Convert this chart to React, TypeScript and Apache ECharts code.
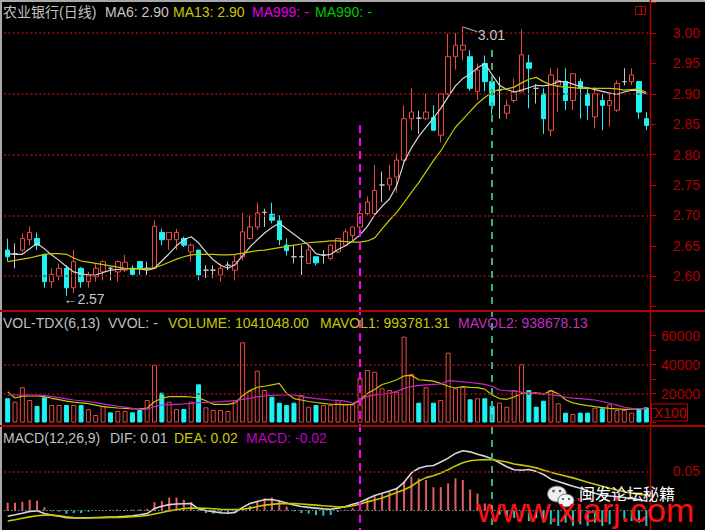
import React, { useEffect, useRef } from "react";
import * as echarts from "echarts";

// ---------- data ----------
const opens = [
  2.643, 2.637, 2.643, 2.66, 2.662, 2.635, 2.591, 2.6, 2.613, 2.581,
  2.613, 2.591, 2.599, 2.607, 2.613, 2.607, 2.61, 2.613, 2.624, 2.613,
  2.613, 2.672, 2.66, 2.66, 2.662, 2.64, 2.643, 2.61, 2.61, 2.602,
  2.618, 2.61, 2.632, 2.662, 2.681, 2.705, 2.702, 2.691, 2.651, 2.632,
  2.632, 2.621, 2.632, 2.635, 2.629, 2.64, 2.651, 2.667, 2.681, 2.703,
  2.703, 2.75, 2.75, 2.763, 2.791, 2.859, 2.86, 2.859, 2.861, 2.832,
  2.9, 2.961, 2.972, 2.961, 2.904, 2.95, 2.92, 2.906, 2.868, 2.889,
  2.903, 2.951, 2.909, 2.9, 2.84, 2.914, 2.92, 2.889, 2.92, 2.9,
  2.862, 2.889, 2.881, 2.873, 2.92, 2.92, 2.92, 2.859,
];
const closes = [
  2.632, 2.637, 2.662, 2.672, 2.651, 2.591, 2.603, 2.613, 2.581, 2.624,
  2.591, 2.602, 2.613, 2.624, 2.613, 2.624, 2.623, 2.603, 2.613, 2.613,
  2.682, 2.66, 2.672, 2.672, 2.651, 2.651, 2.602, 2.61, 2.61, 2.613,
  2.618, 2.624, 2.673, 2.681, 2.704, 2.705, 2.692, 2.66, 2.642, 2.632,
  2.632, 2.643, 2.622, 2.635, 2.651, 2.662, 2.673, 2.681, 2.703, 2.722,
  2.741, 2.75, 2.761, 2.791, 2.859, 2.87, 2.86, 2.87, 2.84, 2.9,
  2.961, 2.98, 2.98, 2.909, 2.939, 2.92, 2.881, 2.906, 2.881, 2.903,
  2.964, 2.942, 2.909, 2.859, 2.931, 2.922, 2.889, 2.933, 2.909, 2.881,
  2.9, 2.881, 2.889, 2.917, 2.92, 2.931, 2.87, 2.848,
];
const lows = [
  2.624, 2.613, 2.64, 2.651, 2.643, 2.581, 2.581, 2.593, 2.568, 2.572,
  2.581, 2.581, 2.591, 2.593, 2.593, 2.591, 2.607, 2.603, 2.602, 2.602,
  2.612, 2.651, 2.643, 2.643, 2.648, 2.624, 2.593, 2.597, 2.597, 2.591,
  2.61, 2.593, 2.626, 2.66, 2.676, 2.681, 2.687, 2.651, 2.634, 2.621,
  2.602, 2.621, 2.618, 2.621, 2.626, 2.638, 2.649, 2.659, 2.676, 2.7,
  2.7, 2.722, 2.741, 2.737, 2.788, 2.84, 2.834, 2.857, 2.84, 2.82,
  2.898, 2.94, 2.955, 2.905, 2.89, 2.904, 2.866, 2.859, 2.859, 2.885,
  2.903, 2.876, 2.884, 2.834, 2.83, 2.87, 2.873, 2.873, 2.859, 2.857,
  2.843, 2.84, 2.846, 2.87, 2.914, 2.914, 2.859, 2.84,
];
const highs = [
  2.662, 2.654, 2.67, 2.682, 2.672, 2.637, 2.613, 2.621, 2.618, 2.643,
  2.615, 2.607, 2.621, 2.626, 2.615, 2.626, 2.635, 2.618, 2.624, 2.624,
  2.692, 2.678, 2.672, 2.678, 2.665, 2.654, 2.643, 2.618, 2.618, 2.621,
  2.624, 2.635, 2.704, 2.7, 2.721, 2.711, 2.721, 2.7, 2.662, 2.651,
  2.651, 2.651, 2.632, 2.643, 2.653, 2.662, 2.678, 2.681, 2.708, 2.731,
  2.783, 2.772, 2.783, 2.802, 2.881, 2.909, 2.872, 2.9, 2.881, 2.9,
  2.999, 3.0, 3.01, 2.972, 2.95, 2.963, 2.925, 2.928, 2.89, 2.925,
  3.006, 2.964, 2.916, 2.909, 2.942, 2.942, 2.942, 2.933, 2.925, 2.911,
  2.911, 2.9, 2.9, 2.922, 2.942, 2.942, 2.92, 2.87,
];
const ma6 = [
  2.637, 2.636, 2.636, 2.645, 2.654, 2.645, 2.635, 2.626, 2.616, 2.607,
  2.604, 2.602, 2.602, 2.606, 2.61, 2.611, 2.612, 2.613, 2.612, 2.61,
  2.613, 2.625, 2.637, 2.65, 2.66, 2.665, 2.655, 2.64, 2.627, 2.618,
  2.613, 2.619, 2.634, 2.648, 2.66, 2.671, 2.68, 2.687, 2.678, 2.669,
  2.66, 2.651, 2.637, 2.634, 2.636, 2.644, 2.65, 2.658, 2.668, 2.682,
  2.701, 2.715, 2.727, 2.749, 2.788, 2.811, 2.83, 2.845, 2.86, 2.876,
  2.895, 2.913, 2.925, 2.932, 2.943, 2.95, 2.931, 2.914, 2.907, 2.903,
  2.906, 2.91, 2.914, 2.913, 2.915, 2.92, 2.92, 2.916, 2.912, 2.91,
  2.907, 2.904, 2.901, 2.899, 2.903, 2.906, 2.905, 2.9,
];
const ma13 = [
  2.624, 2.626, 2.628, 2.63, 2.633, 2.636, 2.637, 2.637, 2.636, 2.63,
  2.625, 2.623, 2.621, 2.619, 2.617, 2.615, 2.613, 2.612, 2.612, 2.612,
  2.614, 2.618, 2.623, 2.628, 2.632, 2.635, 2.636, 2.636, 2.636, 2.635,
  2.635, 2.636, 2.638, 2.64, 2.642, 2.643, 2.645, 2.647, 2.649, 2.651,
  2.653, 2.655, 2.656, 2.657, 2.658, 2.658, 2.657, 2.656, 2.656, 2.658,
  2.663, 2.678, 2.692, 2.705, 2.721, 2.738, 2.754, 2.772, 2.79, 2.806,
  2.826, 2.845, 2.858, 2.871, 2.884, 2.894, 2.903, 2.907, 2.908, 2.911,
  2.918, 2.924, 2.927, 2.92, 2.915, 2.912, 2.911, 2.91, 2.909, 2.909,
  2.909, 2.909, 2.909, 2.908, 2.906, 2.907, 2.908, 2.902,
];
const volumes = [
  16700, 14350, 24300, 15500, 11400, 17400, 12070, 12070, 12070, 12070,
  12070, 9100, 5170, 11400, 7000, 7930, 7930, 7000, 8620, 15500,
  39650, 20550, 14350, 9310, 9310, 14350, 26330, 10460, 8620, 8620,
  7930, 15500, 55300, 21950, 35750, 22400, 17800, 13660, 12070, 13660,
  18970, 10900, 12070, 12070, 12070, 15500, 12500, 12500, 31000, 36200,
  35000, 23600, 22400, 21250, 59200, 33450, 13660, 24300, 13660, 15500,
  48150, 23600, 24700, 16000, 16700, 16700, 11400, 13660, 10900, 22400,
  40150, 22400, 10900, 15050, 22400, 13240, 6760, 5860, 6760, 6760,
  10200, 9770, 12550, 8620, 8620, 6760, 9770, 10410,
];
const mavol1 = [
  21250, 16900, 18200, 18280, 18280, 17800, 16700, 15800, 14800, 14000,
  13500, 13000, 12000, 10900, 10400, 10000, 9700, 9310, 9400, 10000,
  14350, 16700, 17800, 17800, 17800, 17600, 17000, 15000, 12550, 12550,
  12550, 13500, 18500, 22000, 24300, 25000, 26000, 27000, 20140, 16500,
  15500, 14500, 13800, 13240, 12600, 12550, 12300, 12500, 15500, 20000,
  22800, 26200, 27600, 29500, 32100, 32500, 29500, 29000, 28500, 27000,
  25000, 23800, 24690, 24200, 24000, 23000, 19000, 16500, 16000, 17600,
  20000, 20400, 20000, 19500, 22000, 19800, 15700, 13500, 12500, 11600,
  10900, 10300, 9700, 9400, 9100, 9200, 9400, 9938,
];
const mavol2 = [
  18970, 18970, 18970, 18970, 18970, 18600, 17800, 17100, 16300, 15500,
  15000, 14500, 13700, 12800, 12000, 11200, 10600, 9800, 9100, 9200,
  11000, 12070, 12300, 12550, 12800, 13200, 13660, 13800, 14000, 14350,
  14800, 15050, 16000, 16700, 17700, 18280, 18700, 18970, 18970, 18970,
  17800, 17200, 16500, 16000, 15500, 15200, 14700, 13300, 15500, 18000,
  19000, 19500, 20140, 21500, 23500, 24800, 25600, 26000, 26300, 26550,
  28830, 28500, 28000, 27600, 27040, 26300, 25000, 22400, 21900, 21700,
  21000, 20550, 20550, 20000, 19200, 18500, 17400, 16800, 16500, 16000,
  15500, 14500, 13300, 12000, 10500, 9800, 9600, 9387,
];
const dif = [
  -0.0073, -0.0055, -0.0035, -0.0012, -0.0005, -0.004, -0.006, -0.0075, -0.0092, -0.0096,
  -0.0095, -0.0093, -0.009, -0.0087, -0.0083, -0.008, -0.0075, -0.0068, -0.0055, -0.004,
  0.0025, 0.0055, 0.0075, 0.0082, 0.0086, 0.0088, 0.002, 0.0, -0.0015, -0.003,
  -0.0035, -0.0025, 0.004, 0.009, 0.0115, 0.0138, 0.014, 0.012, 0.0095, 0.007,
  0.005, 0.004, 0.003, 0.002, 0.0015, 0.003, 0.005, 0.008, 0.0105, 0.015,
  0.019, 0.022, 0.025, 0.028, 0.036, 0.048, 0.054, 0.0566, 0.0575, 0.062,
  0.067, 0.073, 0.0764, 0.075, 0.072, 0.0695, 0.066, 0.061, 0.056, 0.052,
  0.0515, 0.0525, 0.05, 0.046, 0.04, 0.037, 0.034, 0.031, 0.0285, 0.025,
  0.022, 0.0195, 0.0185, 0.0175, 0.0165, 0.0155, 0.014, 0.012,
];
const dea = [
  -0.0135, -0.0118, -0.01, -0.0082, -0.0068, -0.006, -0.0058, -0.0068, -0.008, -0.009,
  -0.0095, -0.0096, -0.0094, -0.0092, -0.009, -0.0088, -0.0085, -0.008, -0.0074, -0.0065,
  -0.0045, -0.0025, -0.0005, 0.001, 0.0025, 0.003, 0.003, 0.0028, 0.0022, 0.0016,
  0.0012, 0.0012, 0.0016, 0.003, 0.005, 0.0068, 0.0078, 0.0088, 0.009, 0.0088,
  0.0082, 0.0075, 0.0068, 0.006, 0.0053, 0.0045, 0.0045, 0.006, 0.008, 0.011,
  0.0135, 0.016, 0.0195, 0.023, 0.0265, 0.031, 0.0375, 0.042, 0.0445, 0.048,
  0.052, 0.057, 0.061, 0.0635, 0.0645, 0.065, 0.0649, 0.0635, 0.062, 0.0595,
  0.058, 0.0565, 0.0545, 0.0515, 0.049, 0.0463, 0.044, 0.0417, 0.039, 0.036,
  0.0335, 0.031, 0.0285, 0.0262, 0.024, 0.0222, 0.0206, 0.02,
];
const macdHist = [
  0.0099, 0.0099, 0.011, 0.0137, 0.0124, 0.0041, -0.001, -0.0015, -0.0041, -0.0033,
  -0.0033, -0.0017, 0.0005, 0.0005, 0.0008, 0.001, 0.001, 0.0012, 0.0015, 0.002,
  0.0107, 0.012, 0.0165, 0.0165, 0.0137, 0.0107, -0.001, -0.0033, -0.004, -0.004,
  -0.0033, -0.002, 0.003, 0.0058, 0.0124, 0.0153, 0.0165, 0.0124, 0.005, -0.001,
  -0.0033, -0.004, -0.0058, -0.0066, -0.0058, -0.0017, 0.001, 0.003, 0.0083, 0.015,
  0.018, 0.021, 0.0236, 0.029, 0.037, 0.0434, 0.041, 0.039, 0.0298, 0.0298,
  0.0347, 0.041, 0.039, 0.0267, 0.0217, 0.009, 0.003, -0.0054, -0.0066, -0.0096,
  -0.008, -0.0137, -0.0096, -0.0157, -0.0178, -0.0198, -0.0157, -0.0198, -0.0178, -0.0198,
  -0.0157, -0.0198, -0.0178, -0.0157, -0.0116, -0.0137, -0.0157, -0.0198,
];
const days = opens.map((_, i) => `D${i + 1}`);
const priceTickLabels = ["2.60", "2.65", "2.70", "2.75", "2.80", "2.85", "2.90", "2.95", "3.00"];
const priceGridValues = [2.6, 2.7, 2.8, 2.9, 3.0];
const volTickLabels = ["20000", "40000", "60000"];
const volGridValues = [20000, 40000];
const macdTickLabels = ["0.05"];
const macdGridValues = [0.05];
const signalDayMagenta = 48;
const signalDayGreen = 66;

// ---------- styles ----------
const RED = "#e84a45";
const CYAN = "#1ff2f2";
const DOJI = "#c8c8c8";
const WHITE_LINE = "#d6d6d6";
const YELLOW = "#c8c800";
const MAGENTA = "#cc22cc";
const AXIS_RED = "#b00000";
const GRID_RED = "#9a0c0c";
const FONT = "'Liberation Sans', Arial, 'Noto Sans CJK SC', sans-serif";
const CJK = "'Noto Sans CJK SC', sans-serif";

function isUp(i: number) {
  if (closes[i] > opens[i]) return true;
  if (closes[i] < opens[i]) return false;
  return i === 0 || closes[i - 1] <= closes[i];
}

function txt(x: number, y: number, s: string, color: string, size = 14, family = FONT) {
  return {
    type: "text",
    x,
    y,
    z: 50,
    silent: true,
    style: {
      text: s,
      fill: color,
      font: `${size}px ${family}`,
      align: "left",
      verticalAlign: "middle",
      textAlign: "left",
      textVerticalAlign: "middle",
    },
  };
}

const dotted = (color: string, dash: number[], width = 1.5) => ({
  color,
  type: dash,
  width,
});

export default function App() {
  const ref = useRef<HTMLDivElement>(null);

  useEffect(() => {
    if (!ref.current) return;
    const chart = echarts.init(ref.current, undefined, { renderer: "svg" });

    const candleData = opens.map((o, i) => {
      const v = [o, closes[i], lows[i], highs[i]];
      if (o === closes[i]) {
        return {
          value: v,
          itemStyle: { color: DOJI, color0: DOJI, borderColor: DOJI, borderColor0: DOJI },
        };
      }
      return v;
    });

    const volData = volumes.map((v, i) => ({
      value: v,
      itemStyle: isUp(i)
        ? { color: "#000", borderColor: RED, borderWidth: 1 }
        : { color: CYAN, borderColor: CYAN, borderWidth: 1 },
    }));

    const macdData = macdHist.map((v) => ({
      value: v,
      itemStyle: { color: v >= 0 ? "#e06060" : "#20c8c8" },
    }));

    const hiIdx = highs.indexOf(Math.max(...highs));

    const gridDef = { left: 4, right: 55 };
    const axisLabelBase = {
      color: AXIS_RED,
      fontSize: 14,
      fontFamily: FONT,
      align: "right",
      margin: 50,
    };

    const option: any = {
      animation: false,
      backgroundColor: "#000",
      grid: [
        { ...gridDef, top: 2.6, height: 304 },
        { ...gridDef, top: 335.5, height: 87 },
        { ...gridDef, top: 432.3, height: 100 },
        { ...gridDef, top: 0, height: 530 },
      ],
      xAxis: [0, 1, 2, 3].map((g) => ({
        type: "category",
        gridIndex: g,
        data: days,
        show: false,
        boundaryGap: true,
      })),
      yAxis: [
        {
          gridIndex: 0,
          type: "value",
          position: "right",
          min: 2.55,
          max: 3.05,
          interval: 0.05,
          splitLine: { show: false },
          axisLine: { show: true, lineStyle: { color: AXIS_RED } },
          axisTick: { show: true, length: 6, lineStyle: { color: AXIS_RED } },
          axisLabel: {
            ...axisLabelBase,
            formatter: (v: number) => {
              const s = v.toFixed(2);
              return priceTickLabels.includes(s) ? s : "";
            },
          },
        },
        {
          gridIndex: 1,
          type: "value",
          position: "right",
          min: 0,
          max: 60000,
          interval: 10000,
          splitLine: { show: false },
          axisLine: { show: true, lineStyle: { color: AXIS_RED } },
          axisTick: { show: true, length: 6, lineStyle: { color: AXIS_RED } },
          axisLabel: {
            ...axisLabelBase,
            formatter: (v: number) => {
              const s = String(Math.round(v));
              return volTickLabels.includes(s) ? s : "";
            },
          },
        },
        {
          gridIndex: 2,
          type: "value",
          position: "right",
          min: -0.025,
          max: 0.1,
          interval: 0.025,
          splitLine: { show: false },
          axisLine: { show: true, lineStyle: { color: AXIS_RED } },
          axisTick: { show: false },
          axisLabel: {
            ...axisLabelBase,
            formatter: (v: number) => {
              const s = v.toFixed(2);
              return Math.abs(v - 0.05) < 1e-6 && macdTickLabels.includes(s) ? s : "";
            },
          },
        },
        { gridIndex: 3, type: "value", min: 0, max: 530, inverse: true, show: false },
      ],
      series: [
        {
          type: "candlestick",
          xAxisIndex: 0,
          yAxisIndex: 0,
          data: candleData,
          barWidth: 5,
          itemStyle: {
            color: "#000",
            color0: CYAN,
            borderColor: RED,
            borderColor0: CYAN,
            borderWidth: 1,
          },
          markLine: {
            silent: true,
            symbol: ["none", "none"],
            label: { show: false },
            lineStyle: dotted(GRID_RED, [2, 2.4]),
            data: priceGridValues.map((v) => ({ yAxis: v })),
          },
          markPoint: {
            silent: true,
            symbol: "circle",
            symbolSize: 0,
            data: [
              {
                type: "max",
                valueDim: "highest",
                label: {
                  show: true,
                  position: "right",
                  distance: 0,
                  offset: [15, 8],
                  color: "#c8c8c8",
                  fontSize: 14,
                  fontFamily: FONT,
                  formatter: (p: any) => Number(p.value).toFixed(2),
                },
              },
              {
                type: "min",
                valueDim: "lowest",
                label: {
                  show: true,
                  position: "right",
                  distance: 0,
                  offset: [-3, 3],
                  color: "#c8c8c8",
                  fontSize: 14,
                  fontFamily: FONT,
                  formatter: (p: any) => "\u2190" + Number(p.value).toFixed(2),
                },
              },
            ],
          },
          z: 3,
        },
        {
          type: "line",
          xAxisIndex: 0,
          yAxisIndex: 0,
          data: ma6,
          symbol: "none",
          lineStyle: { color: WHITE_LINE, width: 1.2 },
          z: 4,
          markLine: {
            silent: true,
            symbol: ["none", "none"],
            label: { show: false },
            lineStyle: { color: "#b8b8b8", width: 1, type: "solid" },
            data: [
              [
                { coord: [hiIdx, highs[hiIdx]] },
                { coord: [hiIdx + 2, highs[hiIdx] - 0.008] },
              ],
            ],
          },
        },
        {
          type: "line",
          xAxisIndex: 0,
          yAxisIndex: 0,
          data: ma13,
          symbol: "none",
          lineStyle: { color: YELLOW, width: 1.2 },
          z: 4,
        },
        {
          type: "bar",
          xAxisIndex: 1,
          yAxisIndex: 1,
          data: volData,
          barWidth: 5,
          z: 3,
          markLine: {
            silent: true,
            symbol: ["none", "none"],
            label: { show: false },
            lineStyle: dotted(GRID_RED, [2, 2.4]),
            data: volGridValues.map((v) => ({ yAxis: v })),
          },
        },
        {
          type: "line",
          xAxisIndex: 1,
          yAxisIndex: 1,
          data: mavol1,
          symbol: "none",
          lineStyle: { color: YELLOW, width: 1.2 },
          z: 4,
        },
        {
          type: "line",
          xAxisIndex: 1,
          yAxisIndex: 1,
          data: mavol2,
          symbol: "none",
          lineStyle: { color: MAGENTA, width: 1.2 },
          z: 4,
        },
        {
          type: "bar",
          xAxisIndex: 2,
          yAxisIndex: 2,
          data: macdData,
          barWidth: 2,
          z: 3,
          markLine: {
            silent: true,
            symbol: ["none", "none"],
            label: { show: false },
            data: [
              ...macdGridValues.map((v) => ({ yAxis: v, lineStyle: dotted(GRID_RED, [2, 2.4]) })),
              { yAxis: 0, lineStyle: dotted("#8c8c8c", [1.5, 2], 1) },
            ],
          },
        },
        {
          type: "line",
          xAxisIndex: 2,
          yAxisIndex: 2,
          data: dif,
          symbol: "none",
          lineStyle: { color: WHITE_LINE, width: 1.6 },
          z: 4,
        },
        {
          type: "line",
          xAxisIndex: 2,
          yAxisIndex: 2,
          data: dea,
          symbol: "none",
          lineStyle: { color: YELLOW, width: 1.6 },
          z: 4,
        },
        {
          type: "line",
          xAxisIndex: 3,
          yAxisIndex: 3,
          data: [],
          silent: true,
          z: 10,
          markLine: {
            silent: true,
            symbol: ["none", "none"],
            label: { show: false },
            lineStyle: { color: "#ff00ff", width: 2, type: [8, 5] },
            data: [[{ coord: [signalDayMagenta, 125] }, { coord: [signalDayMagenta, 530] }]],
          },
        },
        {
          type: "line",
          xAxisIndex: 3,
          yAxisIndex: 3,
          data: [],
          silent: true,
          z: 10,
          markLine: {
            silent: true,
            symbol: ["none", "none"],
            label: { show: false },
            lineStyle: { color: "#33b07e", width: 2, type: [7, 6] },
            data: [[{ coord: [signalDayGreen, 50] }, { coord: [signalDayGreen, 530] }]],
          },
        },
      ],
      graphic: [
        // frame
        { type: "rect", silent: true, z: 40, shape: { x: 0, y: 0, width: 705, height: 2 }, style: { fill: "#a8a8a8" } },
        { type: "rect", silent: true, z: 40, shape: { x: 0, y: 0, width: 2, height: 530 }, style: { fill: "#a8a8a8" } },
        { type: "line", silent: true, z: 40, shape: { x1: 650.5, y1: 0, x2: 650.5, y2: 530 }, style: { stroke: AXIS_RED, lineWidth: 1.5 } },
        { type: "line", silent: true, z: 40, shape: { x1: 0, y1: 311, x2: 705, y2: 311 }, style: { stroke: "#b00000", lineWidth: 2 } },
        { type: "line", silent: true, z: 40, shape: { x1: 0, y1: 426, x2: 705, y2: 426 }, style: { stroke: "#b00000", lineWidth: 2 } },
        // small window icon
        { type: "rect", silent: true, z: 40, shape: { x: 635.5, y: 6.5, width: 10, height: 8 }, style: { fill: "none", stroke: "#c00000", lineWidth: 1 } },
        { type: "line", silent: true, z: 40, shape: { x1: 641.5, y1: 6.5, x2: 641.5, y2: 14.5 }, style: { stroke: "#c00000", lineWidth: 1 } },
        // X100 box
        { type: "rect", silent: true, z: 40, shape: { x: 651.5, y: 404, width: 36, height: 17 }, style: { fill: "none", stroke: "#c00000", lineWidth: 1 } },
        txt(654, 412.5, "X100", "#c00000", 14),
        // price header
        txt(3, 12, "农业银行(日线)", "#c0c0c0", 14),
        txt(105, 12, "MA6: 2.90", "#c8c8c8", 14),
        txt(173, 12, "MA13: 2.90", YELLOW, 14),
        txt(252, 12, "MA999: -", "#e000e0", 14),
        txt(315, 12, "MA990: -", "#00c800", 14),
        // volume header
        txt(3, 323, "VOL-TDX(6,13)", "#c0c0c0", 14),
        txt(108, 323, "VVOL: -", "#c0c0c0", 14),
        txt(168, 323, "VOLUME: 1041048.00", YELLOW, 14),
        txt(320, 323, "MAVOL1: 993781.31", YELLOW, 14),
        txt(458, 323, "MAVOL2: 938678.13", "#c030c0", 14),
        // macd header
        txt(3, 438, "MACD(12,26,9)", "#c0c0c0", 14),
        txt(110, 438, "DIF: 0.01", "#c0c0c0", 14),
        txt(174, 438, "DEA: 0.02", YELLOW, 14),
        txt(246, 438, "MACD: -0.02", "#c000c0", 14),
        // watermark
        { type: "ellipse", silent: true, z: 60, shape: { cx: 557, cy: 494, rx: 9.5, ry: 8 }, style: { fill: "#eeeeee", stroke: "#6a6a6a", lineWidth: 1 } },
        { type: "ellipse", silent: true, z: 61, shape: { cx: 566, cy: 500.5, rx: 8, ry: 6.5 }, style: { fill: "#f6f6f6", stroke: "#6a6a6a", lineWidth: 1 } },
        { type: "circle", silent: true, z: 62, shape: { cx: 553.5, cy: 491, r: 1.3 }, style: { fill: "#555" } },
        { type: "circle", silent: true, z: 62, shape: { cx: 560, cy: 491, r: 1.3 }, style: { fill: "#555" } },
        { type: "circle", silent: true, z: 62, shape: { cx: 563, cy: 499, r: 1.1 }, style: { fill: "#555" } },
        { type: "circle", silent: true, z: 62, shape: { cx: 569, cy: 499, r: 1.1 }, style: { fill: "#555" } },
        { ...txt(579, 493, "闽发论坛秘籍", "#ffffff", 16, CJK), z: 62 },
        { ...txt(477, 510, "www.xiarj.com", "#ff1010", 34, FONT), z: 63 },
      ],
    };

    chart.setOption(option);
    return () => chart.dispose();
  }, []);

  return (
    <div
      ref={ref}
      style={{ position: "fixed", left: 0, top: 0, width: 705, height: 530 }}
    />
  );
}
